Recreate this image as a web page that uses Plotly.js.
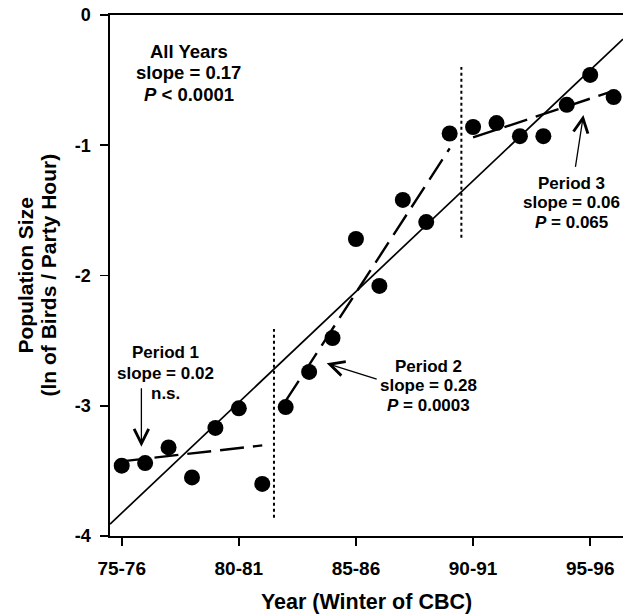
<!DOCTYPE html>
<html>
<head>
<meta charset="utf-8">
<script src="https://cdn.plot.ly/plotly-3.0.1.min.js"></script>
<style>html,body{margin:0;padding:0;background:#fff;}#chart{width:623px;height:614px;}</style>
</head>
<body>
<div id="chart"></div>
<script>
// Winter of CBC (start year of season)
var years = [75,76,77,78,79,80,81,82,83,84,85,86,87,88,89,90,91,92,93,94,95,96];
// ln(birds / party hour)
var popSize = [-3.46,-3.44,-3.32,-3.55,-3.17,-3.02,-3.60,-3.01,-2.74,-2.48,-1.72,-2.08,-1.42,-1.59,-0.91,-0.86,-0.83,-0.93,-0.93,-0.69,-0.46,-0.63];
var tickYears = [75,80,85,90,95];
var tickLabels = ['75-76','80-81','85-86','90-91','95-96'];
// periods (first and last start year)
var periodStart = [75,82,90];
var periodEnd = [81,89,96];
// dotted separators between periods and their vertical extents
var breakYears = [81.5, 89.5];
var breakLow = [-3.86, -1.71];
var breakHigh = [-2.41, -0.40];
// text blocks
var allYearsText = ['All Years', 'slope = 0.17', '<i>P</i> < 0.0001'];
var period1Text = ['Period 1', 'slope = 0.02', 'n.s.'];
var period2Text = ['Period 2', 'slope = 0.28', '<i>P</i> = 0.0003'];
var period3Text = ['Period 3', 'slope = 0.06', '<i>P</i> = 0.065'];

var xRange = [74.5, 96.4];
var FONT = 'Liberation Sans, Arial, sans-serif';

function fit(xs, ys) {
  var n = xs.length, mx = 0, my = 0;
  for (var i = 0; i < n; i++) { mx += xs[i]; my += ys[i]; }
  mx /= n; my /= n;
  var sxy = 0, sxx = 0;
  for (var j = 0; j < n; j++) { sxy += (xs[j]-mx)*(ys[j]-my); sxx += (xs[j]-mx)*(xs[j]-mx); }
  var b = sxy / sxx;
  return function(x){ return my + b*(x-mx); };
}

var traces = [];
var fAll = fit(years, popSize);
traces.push({x: xRange, y: [fAll(xRange[0]), fAll(xRange[1])], mode: 'lines',
  line: {color: '#000', width: 1.7}, hoverinfo: 'skip'});
for (var p = 0; p < periodStart.length; p++) {
  var xs = [], ys = [];
  for (var k = 0; k < years.length; k++) {
    if (years[k] >= periodStart[p] && years[k] <= periodEnd[p]) { xs.push(years[k]); ys.push(popSize[k]); }
  }
  var f = fit(xs, ys);
  traces.push({x: [periodStart[p], periodEnd[p]], y: [f(periodStart[p]), f(periodEnd[p])], mode: 'lines',
    line: {color: '#000', width: 2.4, dash: '24px,9px'}, hoverinfo: 'skip'});
}
for (var s = 0; s < breakYears.length; s++) {
  traces.push({x: [breakYears[s], breakYears[s]], y: [breakLow[s], breakHigh[s]], mode: 'lines',
    line: {color: '#000', width: 2, dash: 'dot'}, hoverinfo: 'skip'});
}
traces.push({x: years, y: popSize, mode: 'markers', marker: {color: '#000', size: 16}});

var annotations = [];
function textBlock(lines, cx, cy, size, spacing) {
  var n = lines.length;
  for (var i = 0; i < n; i++) {
    annotations.push({xref: 'x', yref: 'y', x: cx, y: cy, xanchor: 'center', yanchor: 'middle',
      yshift: -(i - (n-1)/2) * spacing, showarrow: false, text: lines[i],
      font: {family: FONT, size: size, color: '#000', weight: 'bold'}});
  }
}
function arrow(x0, y0, x1, y1) {
  annotations.push({xref: 'x', yref: 'y', x: x1, y: y1, ax: x0, ay: y0, axref: 'x', ayref: 'y',
    showarrow: true, arrowhead: 5, arrowsize: 2.2, arrowwidth: 1.3, arrowcolor: '#000', text: ''});
}
textBlock(allYearsText, 77.86, -0.445, 18.5, 21.5);
textBlock(period1Text, 76.86, -2.75, 17, 20.5);
textBlock(period2Text, 88.08, -2.848, 17, 19.5);
textBlock(period3Text, 94.19, -1.443, 17, 19.5);
arrow(75.84, -2.854, 75.84, -3.314);
arrow(85.95, -2.80, 83.75, -2.674);
arrow(94.36, -1.177, 94.71, -0.768);
// y-axis title (two lines, tight spacing)
var yTitleLines = ['Population Size', '(ln of Birds / Party Hour)'];
var yTitleShift = [-85, -62];
for (var t = 0; t < yTitleLines.length; t++) {
  annotations.push({xref: 'paper', yref: 'paper', x: 0, y: 0.5, xanchor: 'center', yanchor: 'middle',
    xshift: yTitleShift[t], textangle: -90, showarrow: false, text: yTitleLines[t],
    font: {family: FONT, size: 21, color: '#000', weight: 'bold'}});
}

var layout = {
  width: 623, height: 614,
  margin: {l: 110, r: 0, t: 15, b: 78},
  paper_bgcolor: '#fff', plot_bgcolor: '#fff',
  showlegend: false,
  font: {family: FONT, color: '#000'},
  xaxis: {
    range: xRange, tickvals: tickYears, ticktext: tickLabels,
    showgrid: false, zeroline: false, showline: true, linecolor: '#000', linewidth: 1.6, mirror: true,
    ticks: 'outside', ticklen: 8, tickwidth: 1.6, tickcolor: '#000', ticklabelstandoff: 7,
    tickfont: {family: FONT, size: 19, weight: 'bold'},
    title: {text: 'Year (Winter of CBC)', font: {family: FONT, size: 21.5, weight: 'bold'}, standoff: 16}
  },
  yaxis: {
    range: [-4, 0], tickvals: [0,-1,-2,-3,-4], ticktext: ['0','-1','-2','-3','-4'],
    showgrid: false, zeroline: false, showline: true, linecolor: '#000', linewidth: 1.6,
    ticks: 'outside', ticklen: 8, tickwidth: 1.6, tickcolor: '#000', ticklabelstandoff: 6,
    tickfont: {family: FONT, size: 18, weight: 'bold'}
  },
  annotations: annotations
};
Plotly.newPlot('chart', traces, layout, {displayModeBar: false, staticPlot: true});
</script>
</body>
</html>
